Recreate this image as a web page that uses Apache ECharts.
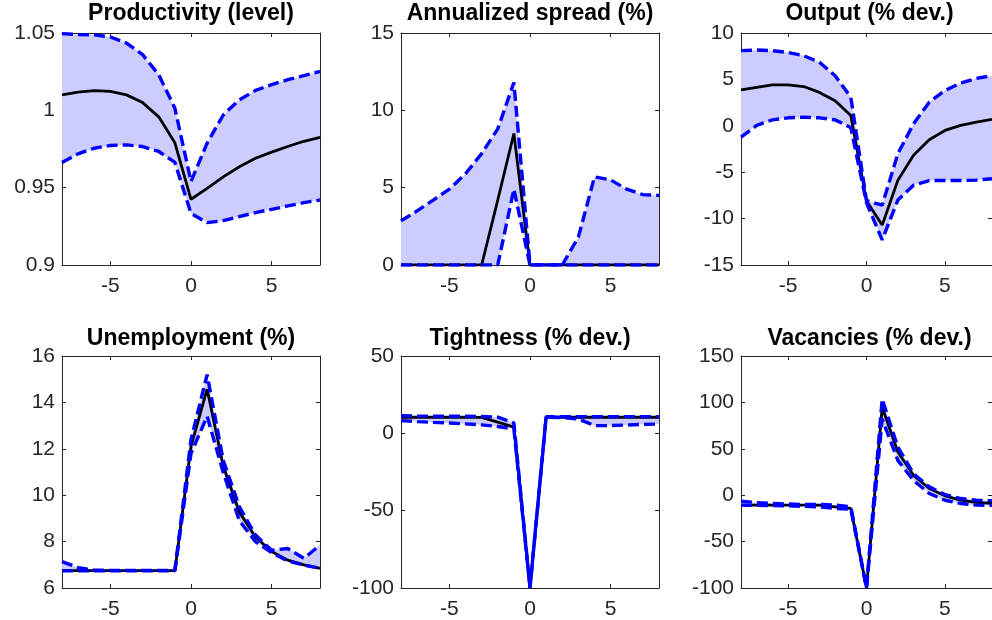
<!DOCTYPE html>
<html>
<head>
<meta charset="utf-8">
<script src="https://cdn.jsdelivr.net/npm/echarts@6/dist/echarts.min.js"></script>
<style>
html,body{margin:0;padding:0;background:#fff;}
#chart{width:992px;height:620px;}
</style>
</head>
<body>
<div id="chart"></div>
<script>
// ---- data ----
const xs = [-8,-7,-6,-5,-4,-3,-2,-1,0,1,2,3,4,5,6,7,8];
const xTicks = [-5, 0, 5];

const titles = ["Productivity (level)", "Annualized spread (%)", "Output (% dev.)",
                "Unemployment (%)", "Tightness (% dev.)", "Vacancies (% dev.)"];

const prodMed = [1.010, 1.0118, 1.0127, 1.0122, 1.0100, 1.0050, 0.9958, 0.979, 0.9425, 0.9495, 0.957, 0.9635, 0.969, 0.973, 0.9766, 0.980, 0.9825];
const prodUp  = [1.0496, 1.049, 1.0488, 1.0474, 1.0435, 1.036, 1.023, 1.0014, 0.954, 0.9788, 0.997, 1.0068, 1.0129, 1.0166, 1.0198, 1.0224, 1.0252];
const prodLo  = [0.9663, 0.9719, 0.9755, 0.9773, 0.9777, 0.9766, 0.9734, 0.9663, 0.9334, 0.9274, 0.9287, 0.9313, 0.9339, 0.936, 0.9382, 0.9403, 0.942];

const sprMed = [0, 0, 0, 0, 0, 0, 4.2, 8.5, 0, 0, 0, 0, 0, 0, 0, 0, 0];
const sprUp  = [2.85, 3.5, 4.2, 4.9, 5.9, 7.2, 8.8, 11.8, 0, 0, 0, 1.8, 5.7, 5.5, 4.9, 4.55, 4.5];
const sprLo  = [0, 0, 0, 0, 0, 0, 0, 4.9, 0, 0, 0, 0, 0, 0, 0, 0, 0];

const outMed = [3.87, 4.15, 4.4, 4.4, 4.23, 3.6, 2.7, 1.1, -8.1, -10.7, -5.87, -3.18, -1.5, -0.5, 0.04, 0.4, 0.7];
const outUp  = [8.1, 8.17, 8.1, 7.9, 7.56, 6.84, 5.4, 3.08, -8.05, -8.55, -3.0, 0.22, 2.55, 3.8, 4.6, 5.1, 5.4];
const outLo  = [-1.22, 0.04, 0.64, 0.86, 0.93, 0.86, 0.64, -0.2, -8.3, -12.3, -8.0, -6.4, -5.9, -5.9, -5.9, -5.85, -5.7];

const unMed = [6.75, 6.75, 6.75, 6.75, 6.75, 6.75, 6.75, 6.75, 12.1, 14.57, 11.26, 9.27, 8.2, 7.57, 7.2, 7.0, 6.85];
const unUp  = [7.14, 6.88, 6.77, 6.76, 6.76, 6.76, 6.76, 6.76, 12.4, 15.2, 11.5, 9.5, 8.28, 7.63, 7.7, 7.28, 7.85];
const unLo  = [6.74, 6.74, 6.74, 6.74, 6.74, 6.74, 6.74, 6.74, 11.8, 13.4, 10.98, 8.9, 8.0, 7.52, 7.17, 6.99, 6.85];

const tiMed = [10.4, 10.4, 10.4, 10.4, 10.4, 10.3, 7.2, 4.0, -100, 10.4, 10.4, 10.4, 10.4, 10.4, 10.4, 10.4, 10.4];
const tiUp  = [11.4, 11.2, 11.1, 11.0, 11.0, 10.9, 10.5, 6.7, -99.5, 10.8, 10.8, 10.8, 10.8, 10.8, 10.8, 10.8, 10.8];
const tiLo  = [8.2, 7.6, 7.1, 6.7, 6.1, 5.5, 4.4, 2.9, -100, 10.4, 10.2, 9.3, 5.0, 5.0, 5.4, 5.8, 6.0];

const vaMed = [-10.7, -10.7, -10.7, -10.7, -10.7, -10.7, -12.5, -14.3, -100, 94.7, 46.5, 21.4, 7.2, -0.7, -5.4, -7.8, -8.9];
const vaUp  = [-6.4, -8, -9, -9.5, -10, -10, -10.7, -12.5, -99.5, 103.6, 51.8, 23.2, 9, 0.7, -3.6, -5.4, -6.0];
const vaLo  = [-10.7, -11, -11.2, -11.4, -12, -12.5, -14.3, -15, -100, 82, 37.5, 16, 1.8, -5.4, -8.9, -10.7, -11];

const yMin = [0.9, 0, -15, 6, -100, -100];
const yMax = [1.05, 15, 10, 16, 50, 150];
const yStep = [0.05, 5, 5, 2, 50, 50];

const medians = [prodMed, sprMed, outMed, unMed, tiMed, vaMed];
const uppers  = [prodUp, sprUp, outUp, unUp, tiUp, vaUp];
const lowers  = [prodLo, sprLo, outLo, unLo, tiLo, vaLo];

// ---- layout ----
const lefts = [62, 401, 741];
const widths = [258, 258, 257];
const tops = [33, 356];
const heights = [232, 234];
const titleTops = [2, 327];

const FONT = "'Liberation Sans', Arial, Helvetica, sans-serif";
const AX = '#262626';

const grids = [], xAxes = [], yAxes = [], series = [], titleArr = [];
for (let i = 0; i < 6; i++) {
  const col = i % 3, row = Math.floor(i / 3);
  grids.push({left: lefts[col], top: tops[row], width: widths[col], height: heights[row], containLabel: false});
  titleArr.push({
    text: titles[i], left: lefts[col] + widths[col] / 2, top: titleTops[row], textAlign: 'center', padding: 0,
    textStyle: {fontFamily: FONT, fontWeight: 'bold', fontSize: 23, color: '#000'}
  });
  const axLine = {show: true, onZero: false, lineStyle: {color: AX, width: 1}};
  xAxes.push({
    type: 'value', gridIndex: i, position: 'bottom', min: -8, max: 8,
    axisLine: axLine,
    axisTick: {show: true, inside: true, length: 4, customValues: xTicks, lineStyle: {color: AX}},
    axisLabel: {show: true, customValues: xTicks, fontSize: 21, color: AX, fontFamily: FONT, margin: 11},
    splitLine: {show: false}
  });
  xAxes.push({
    type: 'value', gridIndex: i, position: 'top', min: -8, max: 8,
    axisLine: axLine,
    axisTick: {show: true, inside: true, length: 4, customValues: xTicks, lineStyle: {color: AX}},
    axisLabel: {show: false},
    splitLine: {show: false}
  });
  yAxes.push({
    type: 'value', gridIndex: i, position: 'left', min: yMin[i], max: yMax[i], interval: yStep[i],
    axisLine: axLine,
    axisTick: {show: true, inside: true, length: 4, lineStyle: {color: AX}},
    axisLabel: {show: true, fontSize: 21, color: AX, fontFamily: FONT, margin: 7},
    splitLine: {show: false}
  });
  yAxes.push({
    type: 'value', gridIndex: i, position: 'right', min: yMin[i], max: yMax[i], interval: yStep[i],
    axisLine: axLine,
    axisTick: {show: true, inside: true, length: 4, lineStyle: {color: AX}},
    axisLabel: {show: false},
    splitLine: {show: false}
  });
  const xi = 2 * i, yi = 2 * i;
  const lo = lowers[i], up = uppers[i], med = medians[i];
  const base = {type: 'line', xAxisIndex: xi, yAxisIndex: yi, symbol: 'none', silent: true, animation: false};
  // shaded band between lower and upper, drawn through the axis scales
  series.push({
    type: 'custom', xAxisIndex: xi, yAxisIndex: yi, silent: true, animation: false, clip: true,
    data: [[0, 0]],
    renderItem: (function (lo, up) {
      return function (params, api) {
        const pts = [];
        for (let k = 0; k < xs.length; k++) pts.push(api.coord([xs[k], up[k]]));
        for (let k = xs.length - 1; k >= 0; k--) pts.push(api.coord([xs[k], lo[k]]));
        return {type: 'polygon', shape: {points: pts}, style: {fill: 'rgb(204,204,255)', stroke: null}};
      };
    })(lo, up)
  });
  series.push(Object.assign({}, base, {
    data: xs.map((x, k) => [x, med[k]]),
    lineStyle: {color: '#000', width: 2.8, type: 'solid'}
  }));
  series.push(Object.assign({}, base, {
    data: xs.map((x, k) => [x, up[k]]),
    lineStyle: {color: '#0000ff', width: 3.4, type: [11, 5]}
  }));
  series.push(Object.assign({}, base, {
    data: xs.map((x, k) => [x, lo[k]]),
    lineStyle: {color: '#0000ff', width: 3.4, type: [11, 5]}
  }));
}

const chart = echarts.init(document.getElementById('chart'), null, {renderer: 'canvas'});
chart.setOption({
  animation: false,
  backgroundColor: '#fff',
  title: titleArr,
  grid: grids,
  xAxis: xAxes,
  yAxis: yAxes,
  series: series
});
</script>
</body>
</html>
